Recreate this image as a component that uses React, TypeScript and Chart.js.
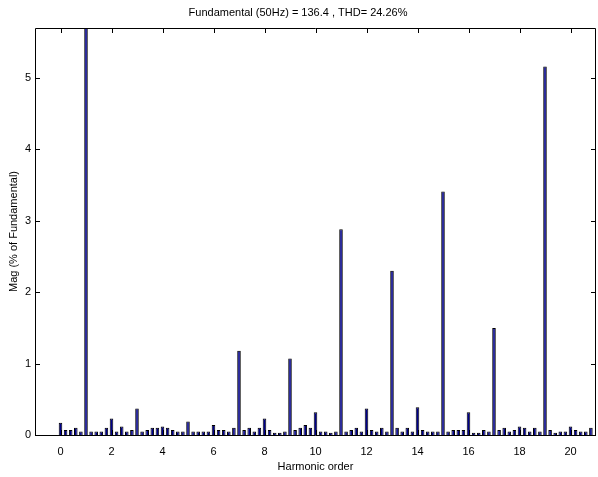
import React, { useEffect, useRef } from "react";
import { Chart, registerables } from "chart.js";

Chart.register(...registerables);

// Magnitudes (% of fundamental) at 10 Hz resolution: harmonic orders 0, 0.2, 0.4 ... 20.8
const magnitudes: number[] = [
  0.17, 0.07, 0.07, 0.10, 0.05,
  100, 0.05, 0.05, 0.05, 0.10,
  0.23, 0.05, 0.12, 0.05, 0.07,
  0.37, 0.05, 0.07, 0.10, 0.10,
  0.12, 0.10, 0.07, 0.05, 0.05,
  0.19, 0.05, 0.05, 0.05, 0.05,
  0.14, 0.07, 0.07, 0.05, 0.10,
  1.18, 0.07, 0.10, 0.05, 0.10,
  0.23, 0.07, 0.03, 0.03, 0.05,
  1.07, 0.07, 0.10, 0.14, 0.10,
  0.32, 0.05, 0.05, 0.03, 0.05,
  2.88, 0.05, 0.07, 0.10, 0.05,
  0.37, 0.07, 0.05, 0.10, 0.05,
  2.30, 0.10, 0.05, 0.10, 0.05,
  0.39, 0.07, 0.05, 0.05, 0.05,
  3.41, 0.05, 0.07, 0.07, 0.07,
  0.32, 0.03, 0.03, 0.07, 0.05,
  1.50, 0.07, 0.10, 0.05, 0.07,
  0.12, 0.10, 0.05, 0.10, 0.05,
  5.16, 0.07, 0.03, 0.05, 0.05,
  0.12, 0.07, 0.05, 0.05, 0.10,
];
const binsPerHarmonic = 5;
const harmonicOrders: number[] = magnitudes.map((_, i) => i / binsPerHarmonic);

const xTicks: number[] = [0, 2, 4, 6, 8, 10, 12, 14, 16, 18, 20];
const yTicks: number[] = [0, 1, 2, 3, 4, 5];

const titleText = "Fundamental (50Hz) = 136.4 , THD= 24.26%";
const xTitle = "Harmonic order";
const yTitle = "Mag (% of Fundamental)";

const FONT = "'Liberation Sans', Arial, sans-serif";

const boxPlugin = {
  id: "matlabBox",
  afterDraw(chart: any) {
    const { ctx, chartArea, scales } = chart;
    const { left, right, top, bottom } = chartArea;
    const L = 5;
    ctx.save();
    ctx.strokeStyle = "#000";
    ctx.lineWidth = 1;
    ctx.beginPath();
    ctx.rect(Math.round(left) + 0.5, Math.round(top) + 0.5, Math.round(right - left) - 1, Math.round(bottom - top));
    ctx.stroke();
    ctx.beginPath();
    for (const v of xTicks) {
      const x = Math.round(scales.x.getPixelForValue(v)) + 0.5;
      ctx.moveTo(x, bottom);
      ctx.lineTo(x, bottom - L);
      ctx.moveTo(x, top);
      ctx.lineTo(x, top + L);
    }
    for (const v of yTicks) {
      const y = Math.round(scales.y.getPixelForValue(v)) + 0.5;
      ctx.moveTo(left, y);
      ctx.lineTo(left + L, y);
      ctx.moveTo(right, y);
      ctx.lineTo(right - L, y);
    }
    ctx.stroke();
    ctx.restore();
  },
};

export default function App() {
  const canvasRef = useRef<HTMLCanvasElement | null>(null);

  useEffect(() => {
    document.body.style.margin = "0";
    const canvas = canvasRef.current;
    if (!canvas) return;
    const chart = new Chart(canvas, {
      type: "bar",
      data: {
        datasets: [
          {
            data: harmonicOrders.map((x, i) => ({ x, y: magnitudes[i] })),
            backgroundColor: "#00008b",
            borderColor: "#000000",
            borderWidth: 1,
            borderSkipped: "start",
            barPercentage: 0.7,
            categoryPercentage: 1,
          } as any,
        ],
      },
      options: {
        animation: false,
        responsive: true,
        maintainAspectRatio: false,
        layout: { padding: { left: 0, right: 2, top: 0, bottom: 0 } },
        plugins: {
          legend: { display: false },
          tooltip: { enabled: false },
          title: {
            display: true,
            text: titleText,
            color: "#000",
            font: { family: FONT, size: 11, weight: "normal" },
            padding: { top: 6, bottom: 8.8 },
          },
        },
        scales: {
          x: {
            type: "linear",
            min: -1,
            max: 21,
            offset: false,
            grid: { display: false, drawTicks: false },
            border: { display: false },
            afterBuildTicks: (s: any) => {
              s.ticks = xTicks.map((v) => ({ value: v }));
            },
            afterFit: (s: any) => {
              s.height = 42;
            },
            ticks: {
              color: "#000",
              font: { family: FONT, size: 11 },
              padding: 10,
              maxRotation: 0,
              autoSkip: false,
            },
            title: {
              display: true,
              text: xTitle,
              color: "#000",
              font: { family: FONT, size: 11 },
              padding: { top: 3, bottom: 3 },
            },
          },
          y: {
            type: "linear",
            min: 0,
            max: 5.7,
            grid: { display: false, drawTicks: false },
            border: { display: false },
            afterBuildTicks: (s: any) => {
              s.ticks = yTicks.map((v) => ({ value: v }));
            },
            afterFit: (s: any) => {
              s.width = 35;
            },
            ticks: {
              color: "#000",
              font: { family: FONT, size: 11 },
              padding: 4,
            },
            title: {
              display: true,
              text: yTitle,
              color: "#000",
              font: { family: FONT, size: 11 },
              padding: { top: 7, bottom: 0 },
            },
          },
        },
      } as any,
      plugins: [boxPlugin],
    });
    return () => chart.destroy();
  }, []);

  return (
    <div style={{ position: "relative", width: 598, height: 477 }}>
      <canvas ref={canvasRef} />
    </div>
  );
}
